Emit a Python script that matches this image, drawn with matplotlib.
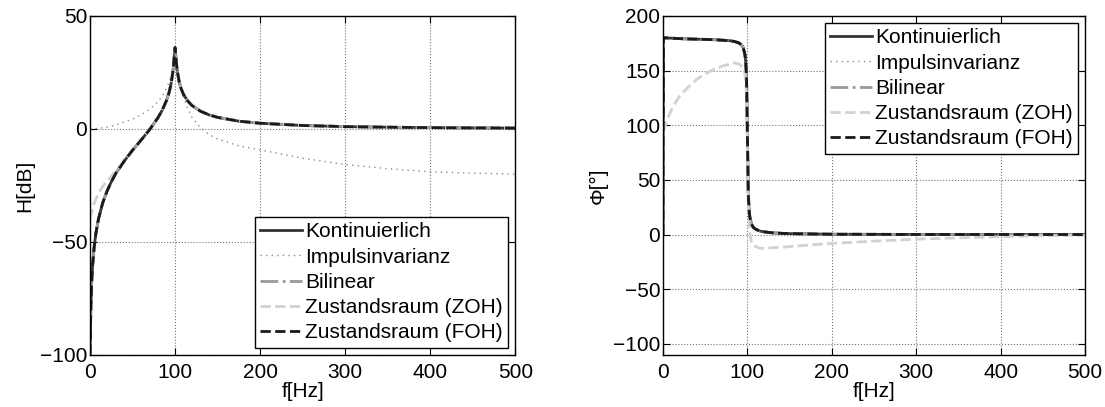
import numpy as np
import matplotlib
matplotlib.use('Agg')
import matplotlib.pyplot as plt

plt.rcParams['font.family'] = ['Liberation Sans', 'DejaVu Sans']

# Frequenzraster [Hz]
f = [0, 0.5, 1, 2, 3, 5, 7, 10, 15, 20, 25, 30, 40, 50, 60, 70, 80, 85, 90, 93,
     95, 97, 98, 99, 100, 101, 102, 103, 105, 107, 110, 115, 120, 130, 140, 150,
     175, 200, 250, 300, 350, 400, 450, 500]

# Betrag [dB]
H_kont = [-100, -92, -80, -68, -61, -52, -46.2, -39.9, -32.7, -27.6, -23.5, -19.9,
          -14.4, -9.5, -5.0, -0.4, 5.0, 8.3, 12.6, 16.1, 19.3, 24.0, 27.0, 31.7,
          36.0, 31.9, 27.6, 24.8, 20.6, 18.0, 15.2, 12.3, 10.3, 7.8, 6.2, 5.1,
          3.4, 2.5, 1.5, 1.0, 0.74, 0.56, 0.44, 0.35]
H_imp = [0, 0, 0.02, 0.05, 0.08, 0.1, 0.15, 0.2, 0.5, 0.8, 1.2, 1.7,
         3.0, 4.3, 6.2, 8.6, 12.0, 14.5, 18.0, 20.5, 23.0, 26.0, 28.0, 31.0,
         35.0, 30.0, 27.0, 24.5, 20.0, 17.0, 14.0, 9.0, 5.0, 0.5, -2.5, -4.5,
         -7.5, -9.3, -13.0, -15.8, -17.6, -19.0, -19.6, -20.0]
H_bil = H_kont
H_zoh = [-40, -39, -38, -37, -35.5, -33, -31, -28.5, -25.5, -23, -21, -18.8,
         -14.5, -9.8, -5.0, -0.4, 5.0, 8.3, 12.6, 16.1, 19.3, 24.0, 27.0, 31.7,
         36.0, 31.9, 27.6, 24.8, 20.6, 18.0, 15.2, 12.3, 10.3, 7.8, 6.2, 5.1,
         3.4, 2.5, 1.5, 1.0, 0.74, 0.56, 0.44, 0.35]
H_foh = H_kont

# Phase [Grad]
P_kont = [0, 180, 180, 179.9, 179.9, 179.8, 179.7, 179.6, 179.4, 179.2, 179.0, 178.9,
          178.7, 178.5, 178.2, 177.8, 177.2, 176.5, 175.2, 173.5,
          171.0, 165.0, 158.0, 141.5, 90.0, 38.9, 22.0, 15.3, 9.3, 6.6, 4.8, 3.2,
          2.5, 1.6, 1.2, 0.9, 0.6, 0.35, 0.25, 0.15, 0.12, 0.1, 0.08, 0.07]
P_imp = P_kont
P_bil = P_kont
P_zoh = [0, 93, 95, 98, 100, 105, 109, 114, 121, 127, 131, 135,
         142, 147, 151, 154, 156, 157, 156, 154,
         152, 147, 140, 125, 80, 30, 10, 0, -8, -10, -11, -12.5,
         -12.5, -12, -11.5, -11, -9.5, -8, -6, -4.2, -3, -2, -1, -0.5]
P_foh = P_kont

labels = ['Kontinuierlich', 'Impulsinvarianz', 'Bilinear',
          'Zustandsraum (ZOH)', 'Zustandsraum (FOH)']
styles = [dict(color='0.2', ls='-', lw=2.0),
          dict(color='0.55', ls=(0, (1, 3)), lw=1.0),
          dict(color='0.6', ls='-.', lw=2.0),
          dict(color='0.82', ls='--', lw=2.0),
          dict(color='0.1', ls='--', lw=2.0)]

fig = plt.figure(figsize=(11.05, 4.07), dpi=100)
ax1 = fig.add_axes([0.0814, 0.128, 0.385, 0.833])
ax2 = fig.add_axes([0.600, 0.128, 0.382, 0.833])


def draw(ax, series, ylim, yticks, ylabel, loc):
    for y, lab, st in zip(series, labels, styles):
        ax.plot(f, y, label=lab, **st)
    ax.set_xlim(0, 500)
    ax.set_ylim(*ylim)
    ax.set_xticks([0, 100, 200, 300, 400, 500])
    ax.set_yticks(yticks)
    ax.grid(True, ls=':', color='0.45', lw=0.8)
    ax.tick_params(direction='in', top=True, right=True, length=5,
                   labelsize=15, width=0.8)
    ax.tick_params(axis='x', pad=6)
    ax.tick_params(axis='y', pad=2)
    for s in ax.spines.values():
        s.set_linewidth(1.0)
    ax.set_xlabel('f[Hz]', fontsize=15, labelpad=0)
    ax.set_ylabel(ylabel, fontsize=15, labelpad=4)
    leg = ax.legend(loc=loc, fontsize=15, fancybox=False, edgecolor='black',
                    framealpha=1, handlelength=2.0, handletextpad=0.15,
                    labelspacing=0.3, borderpad=0.25, borderaxespad=0.35)
    leg.get_frame().set_linewidth(1.0)


draw(ax1, [H_kont, H_imp, H_bil, H_zoh, H_foh], (-100, 50), [-100, -50, 0, 50],
     'H[dB]', 'lower right')
draw(ax2, [P_kont, P_imp, P_bil, P_zoh, P_foh], (-110, 200),
     [-100, -50, 0, 50, 100, 150, 200], '\u03a6[\u00b0]', 'upper right')

fig.savefig('out.png', dpi=100)
